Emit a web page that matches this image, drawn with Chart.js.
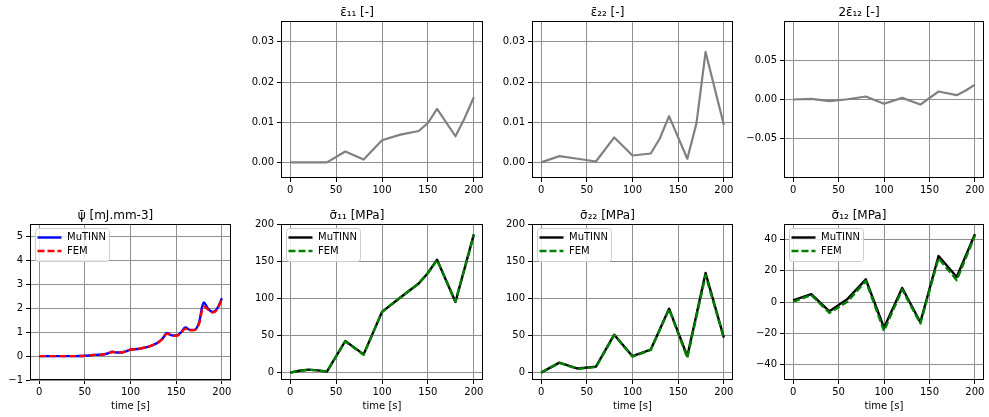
<!DOCTYPE html>
<html><head><meta charset="utf-8">
<script src="https://cdn.jsdelivr.net/npm/chart.js@4.4.1/dist/chart.umd.min.js"></script>
<style>
html,body{margin:0;padding:0;background:#fff;width:989px;height:417px;overflow:hidden}
#wrap{position:relative;width:989px;height:417px;overflow:hidden}
canvas{position:absolute}
</style></head><body><div id="wrap"></div>
<script>
// ---------- DATA ----------
const xTickValues = [0, 50, 100, 150, 200];

const eps11T = [0, 20, 40, 60, 80, 100, 120, 140, 150, 160, 180, 190, 200];
const eps11V = [0, 0, 0, 0.0027, 0.0007, 0.0055, 0.0069, 0.0078, 0.0098, 0.0133, 0.0065, 0.0110, 0.0162];

const eps22T = [0, 20, 40, 60, 80, 100, 120, 130, 140, 160, 170, 180, 200];
const eps22V = [0, 0.00155, 0.0009, 0.0002, 0.0062, 0.0017, 0.0022, 0.0060, 0.0115, 0.0009, 0.0097, 0.0275, 0.0093];

const eps12T = [0, 20, 40, 60, 80, 100, 120, 140, 160, 180, 190, 200];
const eps12V = [0, 0.0008, -0.0021, 0.0003, 0.0038, -0.0055, 0.0021, -0.0064, 0.0102, 0.0055, 0.0115, 0.019];

const psiT   = [0, 10, 20, 30, 40, 45, 50, 55, 60, 65, 70, 75, 80, 85, 90, 95, 100, 105, 110, 115, 120, 125, 130, 135, 140, 145, 150, 155, 160, 165, 170, 175, 180, 185, 190, 195, 200];
const psiMu  = [0, 0, 0, 0, 0, 0.005, 0.015, 0.03, 0.05, 0.055, 0.07, 0.11, 0.18, 0.15, 0.15, 0.2, 0.27, 0.29, 0.31, 0.35, 0.40, 0.47, 0.57, 0.73, 0.97, 0.87, 0.86, 0.98, 1.20, 1.10, 1.10, 1.40, 2.25, 1.98, 1.85, 2.00, 2.42];
const psiFem = [0, 0, 0, 0, 0, 0.005, 0.015, 0.03, 0.05, 0.055, 0.07, 0.11, 0.17, 0.15, 0.15, 0.2, 0.27, 0.29, 0.31, 0.35, 0.40, 0.47, 0.56, 0.72, 0.94, 0.86, 0.85, 0.96, 1.15, 1.08, 1.09, 1.35, 2.08, 1.95, 1.82, 1.97, 2.38];

const sig11T   = [0, 10, 20, 30, 40, 60, 80, 100, 120, 140, 150, 160, 180, 200];
const sig11Mu  = [0, 2.5, 4, 3, 1.3, 42.5, 24.5, 81.7, 101, 120, 134, 152, 95, 186];
const sig11Fem = [0, 2.3, 3.8, 2.8, 1.2, 42, 24, 81.5, 101, 120, 134, 151.5, 95.5, 185];

const sig22T   = [0, 20, 40, 60, 80, 100, 120, 140, 160, 180, 200];
const sig22Mu  = [0, 13.4, 5.4, 8, 51, 22, 31, 86, 22, 134, 47];
const sig22Fem = [0, 13, 5, 7.5, 50.5, 21.5, 30.5, 85.5, 20, 131, 46.5];

const sig12T   = [0, 20, 40, 60, 80, 100, 120, 140, 160, 180, 200];
const sig12Mu  = [1, 5, -6, 2, 14.5, -16.5, 9, -13, 29.5, 16, 43.5];
const sig12Fem = [0, 4.5, -7, 0.3, 13.5, -18.5, 8, -13.8, 28, 14, 42.5];

const epsYTicks = [0, 0.01, 0.02, 0.03];
const eps12YTicks = [-0.05, 0, 0.05];
const psiYTicks = [-1, 0, 1, 2, 3, 4, 5];
const sigYTicks = [0, 50, 100, 150, 200];
const sig12YTicks = [-40, -20, 0, 20, 40];

// ---------- RENDERING ----------
const FONT = "'DejaVu Sans', sans-serif";
Chart.defaults.font.family = FONT;
Chart.defaults.color = '#000';

function pts(t, v) { return t.map((x, i) => ({x: x, y: v[i]})); }
function fmt(v, dec) {
  const s = Math.abs(v).toFixed(dec);
  return (v < -1e-12 ? '\u2212' : '') + s;
}

const framePlugin = {
  id: 'frame',
  afterDatasetsDraw(chart) {
    const {ctx, chartArea: a} = chart;
    ctx.save();
    ctx.strokeStyle = '#000';
    ctx.lineWidth = 1;
    ctx.strokeRect(Math.round(a.left) + 0.5, Math.round(a.top) + 0.5,
                   Math.round(a.right) - Math.round(a.left) - 1, Math.round(a.bottom) - Math.round(a.top) - 1);
    ctx.restore();
  }
};

const boxLegend = {
  id: 'boxLegend',
  afterDraw(chart, args, opts) {
    if (!opts || !opts.items) return;
    const {ctx, chartArea: a} = chart;
    const x = Math.round(a.left) + 5.5, y = Math.round(a.top) + 4.5, w = 74, h = 33, r = 3;
    ctx.save();
    ctx.beginPath();
    ctx.moveTo(x + r, y); ctx.lineTo(x + w - r, y); ctx.arcTo(x + w, y, x + w, y + r, r);
    ctx.lineTo(x + w, y + h - r); ctx.arcTo(x + w, y + h, x + w - r, y + h, r);
    ctx.lineTo(x + r, y + h); ctx.arcTo(x, y + h, x, y + h - r, r);
    ctx.lineTo(x, y + r); ctx.arcTo(x, y, x + r, y, r);
    ctx.closePath();
    ctx.fillStyle = 'rgba(255,255,255,0.8)';
    ctx.fill();
    ctx.strokeStyle = '#cccccc';
    ctx.lineWidth = 1;
    ctx.stroke();
    opts.items.forEach((it, i) => {
      const yy = y + 9 + i * 13.5;
      ctx.beginPath();
      ctx.setLineDash(it.dash || []);
      ctx.strokeStyle = it.color;
      ctx.lineWidth = 2.4;
      ctx.moveTo(x + 2, yy); ctx.lineTo(x + 26, yy);
      ctx.stroke();
      ctx.setLineDash([]);
      ctx.fillStyle = '#000';
      ctx.font = '10px ' + FONT;
      ctx.textBaseline = 'middle';
      ctx.textAlign = 'left';
      ctx.fillText(it.label, x + 31.5, yy);
    });
    ctx.restore();
  }
};

function makeChart(cfg) {
  const yw = Math.min(50, cfg.left);
  const padR = 6;
  const xh = cfg.xTitle ? 32 : 20;
  const w = yw + (cfg.right - cfg.left) + padR;
  const h = 21 + (cfg.bottom - cfg.top) + xh;
  const c = document.createElement('canvas');
  c.style.left = (cfg.left - yw) + 'px';
  c.style.top = (cfg.top - 21) + 'px';
  c.style.width = w + 'px'; c.style.height = h + 'px';
  c.width = w; c.height = h;
  document.getElementById('wrap').appendChild(c);
  new Chart(c, {
    type: 'line',
    data: {datasets: cfg.datasets},
    options: {
      responsive: false, animation: false, devicePixelRatio: 1,
      layout: {padding: {top: 6, left: 0, right: padR, bottom: 0}},
      elements: {point: {radius: 0}, line: {borderJoinStyle: 'round'}},
      plugins: {
        legend: {display: false}, tooltip: {enabled: false},
        title: {display: true, text: cfg.title, color: '#000',
                font: {size: 12, family: FONT, weight: 'normal', lineHeight: '14px'},
                padding: {top: 0, bottom: 1}},
        boxLegend: {items: cfg.legend || null}
      },
      scales: {
        x: {
          type: 'linear', min: -10, max: 210,
          afterBuildTicks: s => { s.ticks = xTickValues.map(v => ({value: v})); },
          afterFit: s => { s.height = xh; },
          grid: {color: '#8f8f8f', lineWidth: 1, tickColor: '#000', tickLength: 4, drawTicks: true},
          border: {display: false},
          ticks: {padding: 2, font: {size: 10}, color: '#000', maxRotation: 0, autoSkip: false, callback: v => fmt(v, 0)},
          title: {display: !!cfg.xTitle, text: cfg.xTitle || '', color: '#000', font: {size: 10}, padding: {top: 0, bottom: 0}}
        },
        y: {
          type: 'linear', min: cfg.yMin, max: cfg.yMax,
          afterBuildTicks: s => { s.ticks = cfg.yTicks.map(v => ({value: v})); },
          afterFit: s => { s.width = yw; },
          grid: {color: '#8f8f8f', lineWidth: 1, tickColor: '#000', tickLength: 4, drawTicks: true},
          border: {display: false},
          ticks: {padding: 3, font: {size: 10}, color: '#000', autoSkip: false, callback: v => fmt(v, cfg.yDec)}
        }
      }
    },
    plugins: [framePlugin, boxLegend]
  });
}

function grayLine(t, v) {
  return {data: pts(t, v), borderColor: '#808080', borderWidth: 2.2, pointRadius: 0, tension: 0, fill: false};
}
function pair(t, mu, fem, cMu, cFem, mono) {
  const extra = mono ? {cubicInterpolationMode: 'monotone'} : {tension: 0};
  return [
    Object.assign({label: 'MuTINN', data: pts(t, mu), borderColor: cMu, borderWidth: 2.4, pointRadius: 0, fill: false, order: 1}, extra),
    Object.assign({label: 'FEM', data: pts(t, fem), borderColor: cFem, borderWidth: 2.4, borderDash: [7, 3], pointRadius: 0, fill: false, order: 0}, extra)
  ];
}

const TOP = 21, BOT = 178, TOP2 = 224, BOT2 = 380;
const cols = [[30, 231], [281, 483], [532, 733], [784, 984]];

makeChart({left: cols[1][0], right: cols[1][1], top: TOP, bottom: BOT, title: '\u03B5\u0304\u2081\u2081 [-]',
  yMin: -0.0039, yMax: 0.0352, yTicks: epsYTicks, yDec: 2, datasets: [grayLine(eps11T, eps11V)]});
makeChart({left: cols[2][0], right: cols[2][1], top: TOP, bottom: BOT, title: '\u03B5\u0304\u2082\u2082 [-]',
  yMin: -0.0039, yMax: 0.0352, yTicks: epsYTicks, yDec: 2, datasets: [grayLine(eps22T, eps22V)]});
makeChart({left: cols[3][0], right: cols[3][1], top: TOP, bottom: BOT, title: '2\u03B5\u0304\u2081\u2082 [-]',
  yMin: -0.1, yMax: 0.1, yTicks: eps12YTicks, yDec: 2, datasets: [grayLine(eps12T, eps12V)]});

makeChart({left: cols[0][0], right: cols[0][1], top: TOP2, bottom: BOT2, title: '\u03C8\u0304 [mJ.mm-3]', xTitle: 'time [s]',
  yMin: -1, yMax: 5.53, yTicks: psiYTicks, yDec: 0,
  datasets: pair(psiT, psiMu, psiFem, '#0000ff', '#ff0000', true),
  legend: [{label: 'MuTINN', color: '#0000ff'}, {label: 'FEM', color: '#ff0000', dash: [7, 3]}]});
makeChart({left: cols[1][0], right: cols[1][1], top: TOP2, bottom: BOT2, title: '\u03C3\u0304\u2081\u2081 [MPa]', xTitle: 'time [s]',
  yMin: -10, yMax: 200, yTicks: sigYTicks, yDec: 0,
  datasets: pair(sig11T, sig11Mu, sig11Fem, '#000000', '#008000', false),
  legend: [{label: 'MuTINN', color: '#000000'}, {label: 'FEM', color: '#008000', dash: [7, 3]}]});
makeChart({left: cols[2][0], right: cols[2][1], top: TOP2, bottom: BOT2, title: '\u03C3\u0304\u2082\u2082 [MPa]', xTitle: 'time [s]',
  yMin: -10, yMax: 200, yTicks: sigYTicks, yDec: 0,
  datasets: pair(sig22T, sig22Mu, sig22Fem, '#000000', '#008000', false),
  legend: [{label: 'MuTINN', color: '#000000'}, {label: 'FEM', color: '#008000', dash: [7, 3]}]});
makeChart({left: cols[3][0], right: cols[3][1], top: TOP2, bottom: BOT2, title: '\u03C3\u0304\u2081\u2082 [MPa]', xTitle: 'time [s]',
  yMin: -50, yMax: 50, yTicks: sig12YTicks, yDec: 0,
  datasets: pair(sig12T, sig12Mu, sig12Fem, '#000000', '#008000', false),
  legend: [{label: 'MuTINN', color: '#000000'}, {label: 'FEM', color: '#008000', dash: [7, 3]}]});
</script>
</body></html>
